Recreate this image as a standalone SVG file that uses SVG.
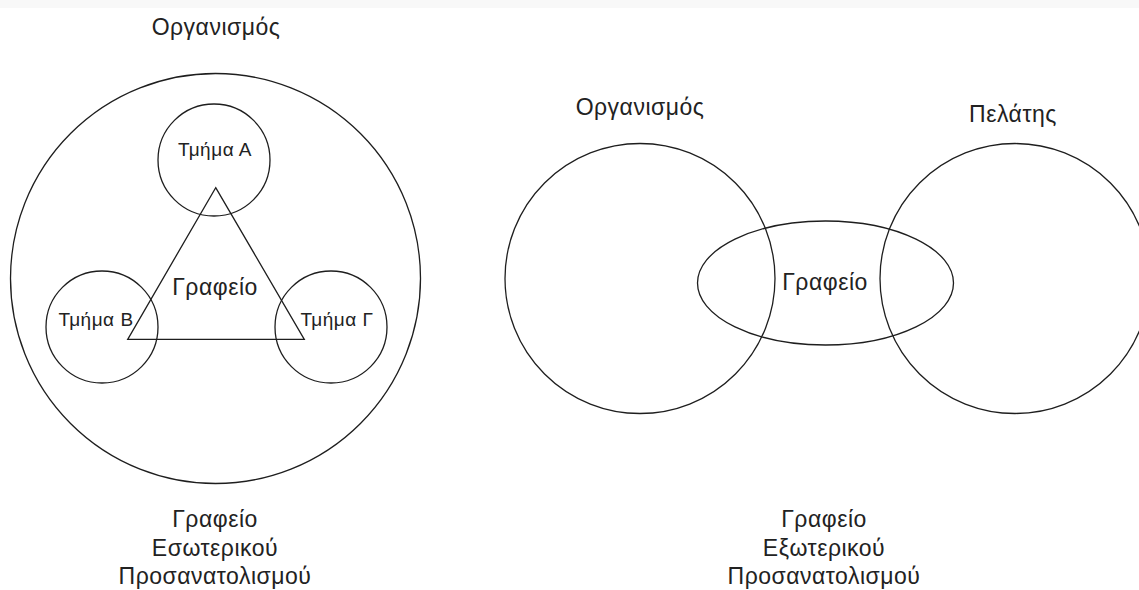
<svg xmlns="http://www.w3.org/2000/svg" width="1139" height="590" viewBox="0 0 1139 590">
  <style>
    .shape { fill: none; stroke: #1e1e1e; stroke-width: 1.3; }
    .lbl { font-family: "Liberation Sans", Arial, sans-serif; fill: #222; text-anchor: middle; letter-spacing: 0.5px; }
    .big { font-size: 23px; }
    .small { font-size: 19px; }
  </style>
  <rect x="0" y="0" width="1139" height="590" fill="#ffffff"/>
  <rect x="0" y="0" width="1139" height="8" fill="#f8f8f8"/>

  <!-- Left: inward-oriented office -->
  <g id="internal">
    <g id="org-left">
      <circle class="shape" cx="215.5" cy="278.5" r="205"/>
      <text class="lbl big" x="216" y="35">Οργανισμός</text>
    </g>
    <g id="dept-a">
      <circle class="shape" cx="214" cy="160" r="56"/>
      <text class="lbl small" x="215" y="156">Τμήμα Α</text>
    </g>
    <g id="dept-b">
      <circle class="shape" cx="102" cy="327" r="56"/>
      <text class="lbl small" x="96" y="326">Τμήμα Β</text>
    </g>
    <g id="dept-g">
      <circle class="shape" cx="331" cy="327" r="56"/>
      <text class="lbl small" x="337" y="326">Τμήμα Γ</text>
    </g>
    <g id="office-left">
      <polygon class="shape" points="215.7,187.7 304.3,339.3 127.7,339.3"/>
      <text class="lbl big" x="215" y="295">Γραφείο</text>
    </g>
    <g id="caption-left">
      <text class="lbl big" x="215" y="527">Γραφείο</text>
      <text class="lbl big" x="215" y="555.5">Εσωτερικού</text>
      <text class="lbl big" x="215" y="584">Προσανατολισμού</text>
    </g>
  </g>

  <!-- Right: outward-oriented office -->
  <g id="external">
    <g id="org-right">
      <circle class="shape" cx="640" cy="278.5" r="135"/>
      <text class="lbl big" x="640" y="115">Οργανισμός</text>
    </g>
    <g id="client">
      <circle class="shape" cx="1015" cy="278.5" r="135"/>
      <text class="lbl big" x="1013" y="121.5">Πελάτης</text>
    </g>
    <g id="office-right">
      <ellipse class="shape" cx="825.5" cy="283" rx="128" ry="62"/>
      <text class="lbl big" x="825" y="290">Γραφείο</text>
    </g>
    <g id="caption-right">
      <text class="lbl big" x="824" y="527">Γραφείο</text>
      <text class="lbl big" x="824" y="555.5">Εξωτερικού</text>
      <text class="lbl big" x="824" y="584">Προσανατολισμού</text>
    </g>
  </g>
</svg>
